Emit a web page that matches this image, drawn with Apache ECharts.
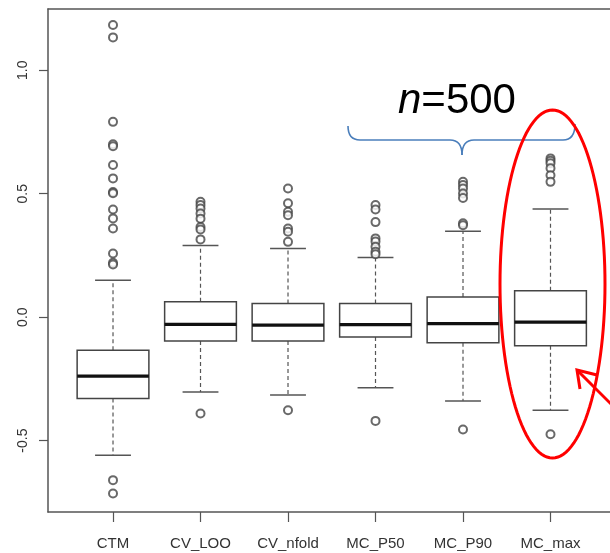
<!DOCTYPE html>
<html>
<head>
<meta charset="utf-8">
<script src="https://cdn.jsdelivr.net/npm/echarts@6/dist/echarts.min.js"></script>
<style>
    html, body { margin: 0; padding: 0; background: #fff; }
    #chart { width: 610px; height: 553px; }
</style>
</head>
<body>
<div id="chart"></div>
<script>
    const categories = ['CTM', 'CV_LOO', 'CV_nfold', 'MC_P50', 'MC_P90', 'MC_max'];

    const lowerWhisker = [-0.559, -0.303, -0.315, -0.286, -0.339, -0.377];
    const q1 = [-0.329, -0.096, -0.097, -0.080, -0.104, -0.116];
    const median = [-0.239, -0.029, -0.032, -0.030, -0.026, -0.020];
    const q3 = [-0.134, 0.062, 0.055, 0.055, 0.082, 0.107];
    const upperWhisker = [0.150, 0.290, 0.278, 0.242, 0.348, 0.438];

    const outliers = [
        [1.183, 1.133, 0.791, 0.700, 0.692, 0.616, 0.562, 0.507, 0.502, 0.436, 0.400, 0.359, 0.258, 0.220, 0.213, -0.660, -0.714],
        [0.467, 0.454, 0.440, 0.420, 0.399, 0.365, 0.355, 0.315, -0.390],
        [0.521, 0.461, 0.427, 0.413, 0.359, 0.346, 0.305, -0.377],
        [0.454, 0.436, 0.385, 0.319, 0.306, 0.285, 0.265, 0.255, -0.420],
        [0.548, 0.535, 0.521, 0.501, 0.483, 0.380, 0.372, -0.455],
        [0.643, 0.633, 0.623, 0.603, 0.575, 0.548, -0.474]
    ];

    const yTicks = [-0.5, 0, 0.5, 1];

    const boxData = categories.map((c, i) => [i, lowerWhisker[i], q1[i], median[i], q3[i], upperWhisker[i]]);
    const outlierData = [];
    outliers.forEach((list, i) => {
        list.forEach(v => outlierData.push([i, v]));
    });

    function renderBox(params, api) {
        const x = api.value(0);
        const lw = api.coord([x, api.value(1)]);
        const lo = api.coord([x, api.value(2)]);
        const md = api.coord([x, api.value(3)]);
        const hi = api.coord([x, api.value(4)]);
        const uw = api.coord([x, api.value(5)]);
        const halfBox = api.size([0.82, 0])[0] / 2;
        const halfCap = api.size([0.41, 0])[0] / 2;
        const cx = lo[0];
        const dash = {stroke: '#555', lineWidth: 1.2, lineDash: [4, 3]};
        const solid = {stroke: '#555', lineWidth: 1.5};
        return {
            type: 'group',
            children: [
                {type: 'line', shape: {x1: cx, y1: lo[1], x2: cx, y2: lw[1]}, style: dash},
                {type: 'line', shape: {x1: cx, y1: hi[1], x2: cx, y2: uw[1]}, style: dash},
                {type: 'line', shape: {x1: cx - halfCap, y1: lw[1], x2: cx + halfCap, y2: lw[1]}, style: solid},
                {type: 'line', shape: {x1: cx - halfCap, y1: uw[1], x2: cx + halfCap, y2: uw[1]}, style: solid},
                {
                    type: 'rect',
                    shape: {x: cx - halfBox, y: hi[1], width: halfBox * 2, height: lo[1] - hi[1]},
                    style: {fill: '#fff', stroke: '#444', lineWidth: 1.5}
                },
                {type: 'line', shape: {x1: cx - halfBox, y1: md[1], x2: cx + halfBox, y2: md[1]}, style: {stroke: '#111', lineWidth: 3.2}}
            ]
        };
    }

    // red ellipse drawn round the last box
    const ellipsePts = [];
    for (let k = 0; k < 120; k++) {
        const t = k / 120 * Math.PI * 2;
        ellipsePts.push([552.5 + 52.5 * Math.cos(t), 284 + 174 * Math.sin(t)]);
    }

    const braceStyle = {fill: 'none', stroke: '#4a7ebb', lineWidth: 1.6};
    const frameLine = {show: true, onZero: false, lineStyle: {color: '#555', width: 1.5}};

    const chart = echarts.init(document.getElementById('chart'));

    chart.setOption({
        backgroundColor: '#fff',
        animation: false,
        grid: {
            left: 48,
            right: 0,
            top: 9,
            bottom: 41
        },
        xAxis: [
            {
                type: 'value',
                min: -0.743,
                max: 5.68,
                axisLine: frameLine,
                splitLine: {show: false},
                axisTick: {
                    show: true,
                    length: 10,
                    customValues: categories.map((c, i) => i),
                    lineStyle: {color: '#555', width: 1.2}
                },
                axisLabel: {
                    customValues: categories.map((c, i) => i),
                    formatter: v => categories[Math.round(v)],
                    margin: 24,
                    fontSize: 15,
                    fontFamily: 'Liberation Sans',
                    color: '#333'
                }
            },
            {
                // top edge of the frame
                type: 'value',
                position: 'top',
                min: -0.743,
                max: 5.68,
                axisLine: frameLine,
                axisTick: {show: false},
                axisLabel: {show: false},
                splitLine: {show: false}
            }
        ],
        yAxis: {
            type: 'value',
            min: -0.789,
            max: 1.248,
            axisLine: frameLine,
            splitLine: {show: false},
            axisTick: {
                show: true,
                length: 9,
                customValues: yTicks,
                lineStyle: {color: '#555', width: 1.2}
            },
            axisLabel: {
                customValues: yTicks,
                formatter: v => v.toFixed(1),
                rotate: 90,
                margin: 18,
                fontSize: 14,
                fontFamily: 'Liberation Sans',
                color: '#333'
            }
        },
        series: [
            {
                type: 'custom',
                renderItem: renderBox,
                encode: {x: 0, y: [1, 2, 3, 4, 5]},
                data: boxData,
                z: 2
            },
            {
                type: 'scatter',
                symbol: 'emptyCircle',
                symbolSize: 8,
                itemStyle: {color: '#444', borderWidth: 1.1},
                data: outlierData,
                z: 3
            }
        ],
        graphic: [
            {
                type: 'text',
                x: 398,
                y: 80,
                style: {
                    text: '{i|n}{r|=500}',
                    rich: {
                        i: {fontSize: 42, fontStyle: 'italic', fontFamily: 'Liberation Sans', fill: '#000'},
                        r: {fontSize: 42, fontFamily: 'Liberation Sans', fill: '#000'}
                    }
                },
                z: 10
            },
            {type: 'bezierCurve', shape: {x1: 348, y1: 126, cpx1: 348, cpy1: 140, x2: 360, y2: 140}, style: braceStyle, z: 10},
            {type: 'line', shape: {x1: 360, y1: 140, x2: 450, y2: 140}, style: braceStyle, z: 10},
            {type: 'bezierCurve', shape: {x1: 450, y1: 140, cpx1: 462, cpy1: 140, x2: 462, y2: 155}, style: braceStyle, z: 10},
            {type: 'bezierCurve', shape: {x1: 462, y1: 155, cpx1: 462, cpy1: 140, x2: 474, y2: 140}, style: braceStyle, z: 10},
            {type: 'line', shape: {x1: 474, y1: 140, x2: 563, y2: 140}, style: braceStyle, z: 10},
            {type: 'bezierCurve', shape: {x1: 563, y1: 140, cpx1: 575, cpy1: 140, x2: 575, y2: 124}, style: braceStyle, z: 10},
            {
                type: 'polygon',
                shape: {points: ellipsePts},
                style: {fill: 'none', stroke: '#f00', lineWidth: 3},
                z: 10
            },
            {
                type: 'line',
                shape: {x1: 625, y1: 418, x2: 578, y2: 371},
                style: {stroke: '#f00', lineWidth: 3},
                z: 10
            },
            {
                type: 'polyline',
                shape: {points: [[580, 389], [577, 370], [597, 375]]},
                style: {fill: 'none', stroke: '#f00', lineWidth: 3},
                z: 10
            }
        ]
    });
</script>
</body>
</html>
